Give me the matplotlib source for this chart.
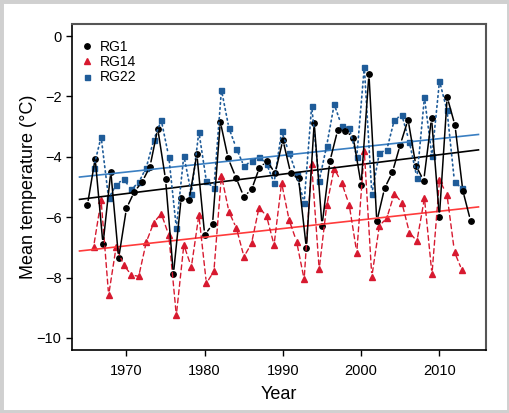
import numpy as np
import matplotlib
matplotlib.use("Agg")
import matplotlib.pyplot as plt
from matplotlib.patches import Rectangle

plt.rcParams['font.family'] = ['Liberation Sans', 'DejaVu Sans']

# --- data ---
years = np.arange(1965, 2015)
# RG14 / RG22 sit on a slightly compressed x grid in the original figure
years_b = np.linspace(1965.8, 2012.9, 50)

rg1 = [-5.61, -4.06, -6.90, -4.49, -7.36, -5.71, -5.16, -4.83, -4.33, -3.07,
       -4.75, -7.89, -5.36, -5.43, -3.91, -6.59, -6.24, -2.84, -4.05, -4.69,
       -5.32, -5.08, -4.36, -4.14, -4.55, -3.44, -4.55, -4.71, -7.03, -2.87,
       -6.28, -4.15, -3.12, -3.13, -3.37, -4.92, -1.26, -6.14, -5.04, -4.51,
       -3.60, -2.77, -4.29, -4.79, -2.72, -5.99, -2.02, -2.96, -5.12, -6.13]

rg14 = [-6.98, -5.44, -8.58, -6.98, -7.58, -7.91, -7.96, -6.83, -6.18, -5.88,
        -6.60, -9.25, -6.92, -7.65, -5.93, -8.19, -7.79, -4.62, -5.82, -6.37,
        -7.31, -6.87, -5.68, -5.96, -6.92, -4.86, -6.09, -6.81, -8.06, -4.25,
        -7.72, -5.61, -4.39, -4.86, -5.60, -7.17, -3.81, -7.97, -6.29, -6.02,
        -5.22, -5.52, -6.51, -6.79, -5.37, -7.89, -4.77, -5.26, -7.16, -7.76]

rg22 = [-4.36, -3.34, -5.38, -4.92, -4.74, -5.08, -4.85, -4.36, -3.44, -2.79,
        -4.00, -6.35, -3.96, -5.22, -3.17, -4.81, -5.04, -1.78, -3.05, -3.73,
        -4.31, -4.14, -4.00, -4.23, -4.86, -3.16, -3.86, -4.58, -5.52, -2.31,
        -4.80, -3.63, -2.26, -2.98, -3.04, -4.00, -1.02, -5.22, -3.88, -3.76,
        -2.77, -2.62, -3.51, -4.69, -2.03, -3.98, -1.49, -2.46, -4.84, -5.04]

trend_years = [1964, 2015]
trend_rg1 = [-5.41, -3.77]
trend_rg14 = [-7.12, -5.66]
trend_rg22 = [-4.67, -3.26]

labels = ['RG1', 'RG14', 'RG22']

c_black = '#000000'
c_red = '#d7192f'
c_blue = '#1f5c99'
c_red_trend = '#ff3b3b'
c_blue_trend = '#3a7fc2'

fig = plt.figure(figsize=(5.10, 4.13), dpi=100)
ax = fig.add_axes([0.1412, 0.1525, 0.8117, 0.7894])


def gapped_line(x, y, color, ls, lw, gap):
    # lines that stop short of each point, like R's type = "b"
    for i in range(len(x) - 1):
        ax.annotate('', xy=(x[i + 1], y[i + 1]), xytext=(x[i], y[i]),
                    arrowprops=dict(arrowstyle='-', color=color, lw=lw,
                                    linestyle=ls, shrinkA=gap, shrinkB=gap))


gapped_line(years_b, rg22, c_blue, (0, (1, 2)), 1.2, 3.0)
gapped_line(years_b, rg14, c_red, (0, (3.5, 2.5)), 1.0, 3.0)
gapped_line(years, rg1, c_black, '-', 1.1, 3.6)

ax.plot(years_b, rg22, ls='none', marker='s', ms=3.6, color=c_blue, label=labels[2])
ax.plot(years_b, rg14, ls='none', marker='^', ms=4.2, color=c_red, label=labels[1])
ax.plot(years, rg1, ls='none', marker='o', ms=3.9, color=c_black, label=labels[0])

# trend lines
ax.plot(trend_years, trend_rg1, color=c_black, lw=1.2)
ax.plot(trend_years, trend_rg14, color=c_red_trend, lw=1.2)
ax.plot(trend_years, trend_rg22, color=c_blue_trend, lw=1.2)

ax.set_xlim(1963.04, 2015.96)
ax.set_ylim(-10.4, 0.4)
ax.set_xticks([1970, 1980, 1990, 2000, 2010])
ax.set_yticks([0, -2, -4, -6, -8, -10])
ax.tick_params(direction='out', length=4.5, width=1, labelsize=10.5, colors='black')
ax.tick_params(axis='x', pad=5.5)
ax.tick_params(axis='y', pad=3)

for side in ['left', 'bottom']:
    ax.spines[side].set_color('black')
    ax.spines[side].set_linewidth(1.2)
for side in ['top', 'right']:
    ax.spines[side].set_color('#555555')
    ax.spines[side].set_linewidth(1.5)

ax.set_xlabel('Year', fontsize=13, labelpad=6)
ax.set_ylabel('Mean temperature (°C)', fontsize=13, labelpad=0)

handles, labs = ax.get_legend_handles_labels()
order = [2, 1, 0]
ax.legend([handles[i] for i in order], [labs[i] for i in order],
          loc='upper left', bbox_to_anchor=(0.0, 0.982), frameon=False,
          fontsize=10, handlelength=0.8, handletextpad=0.5,
          labelspacing=0.1, borderaxespad=0.3)

# light grey frame around the whole picture
fig.patches.append(Rectangle((0, 0), 1, 1, transform=fig.transFigure,
                             fill=False, edgecolor='#d0d0d0', lw=5))

fig.savefig('out.png', dpi=100)
